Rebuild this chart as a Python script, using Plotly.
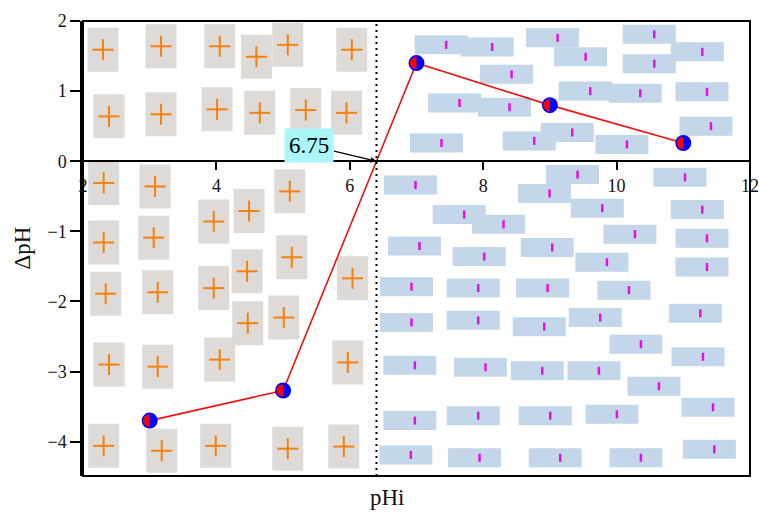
import numpy as np
import plotly.graph_objects as go

# ---- data ----
phi_initial = [3, 5, 7, 9, 11]
delta_ph = [-3.7, -3.27, 1.4, 0.8, 0.26]
pzc_cross_x = 6.4
pzc_label = "6.75"
x_ticks = [2, 4, 6, 8, 10, 12]
y_ticks = [-4, -3, -2, -1, 0, 1, 2]
x_title = "pHi"
y_title = "ΔpH"

# decorative "+" charge boxes (positive surface region)
plus_x = [2.30, 3.17, 4.05, 4.60, 5.07, 6.03, 2.39, 3.17, 4.01, 4.65, 5.34, 5.95,
          2.31, 3.08, 5.10, 3.96, 4.49, 2.31, 3.06, 5.13, 4.46, 6.04, 3.96, 2.34,
          3.12, 4.47, 5.01, 2.39, 3.12, 4.05, 5.97, 2.31, 3.18, 3.99, 5.07, 5.91]
plus_y = [1.59, 1.64, 1.64, 1.49, 1.66, 1.59, 0.64, 0.67, 0.74, 0.69, 0.73, 0.69,
          -0.31, -0.36, -0.43, -0.86, -0.71, -1.16, -1.09, -1.37, -1.57, -1.67, -1.81, -1.89,
          -1.87, -2.31, -2.23, -2.90, -2.93, -2.83, -2.87, -4.06, -4.13, -4.06, -4.10, -4.07]
# decorative "I" charge boxes (negative surface region)
minus_x = [7.37, 8.06, 9.04, 9.46, 10.49, 11.21, 10.49, 8.35, 9.53, 10.28, 11.28, 7.57,
           8.32, 11.34, 9.26, 8.69, 10.08, 7.30,
           6.91, 9.34, 8.92, 10.95, 9.71, 11.21, 7.64, 8.23, 10.20, 11.28, 6.97, 8.96,
           7.94, 9.78, 11.28, 6.85, 7.85, 8.89, 10.11, 11.18, 6.85, 7.85, 8.84, 9.68,
           10.29, 11.22, 6.90, 7.96, 8.81, 9.66, 10.56, 11.37, 6.90, 7.85, 8.93, 9.93,
           6.84, 7.87, 9.08, 10.29, 11.39]
minus_y = [1.66, 1.63, 1.76, 1.49, 1.81, 1.56, 1.39, 1.24, 1.00, 0.97, 0.99, 0.83,
           0.77, 0.50, 0.41, 0.29, 0.24, 0.26,
           -0.34, -0.19, -0.46, -0.23, -0.67, -0.69, -0.76, -0.90, -1.04, -1.10, -1.21, -1.23,
           -1.36, -1.44, -1.51, -1.79, -1.81, -1.81, -1.84, -2.17, -2.30, -2.27, -2.36, -2.23,
           -2.61, -2.79, -2.91, -2.94, -2.99, -2.99, -3.21, -3.51, -3.70, -3.63, -3.63, -3.61,
           -4.19, -4.23, -4.23, -4.23, -4.11]

X_RANGE = [2, 12]
Y_RANGE = [-4.49, 2]

GRAY = "#dedad8"
ORANGE = "#f7810d"
BLUEBOX = "#c4d6ea"
MAGENTA = "#e60fe6"
SERIF = "Liberation Serif"

shapes = []
for x, y in zip(plus_x, plus_y):
    common = dict(xref="x", yref="y", xsizemode="pixel", ysizemode="pixel",
                  xanchor=x, yanchor=y, layer="below")
    shapes.append(dict(type="rect", x0=-15.5, x1=15.5, y0=-22, y1=22,
                       fillcolor=GRAY, line=dict(width=0), **common))
    shapes.append(dict(type="line", x0=-10.5, x1=10.5, y0=0, y1=0,
                       line=dict(color=ORANGE, width=2), **common))
    shapes.append(dict(type="line", x0=0, x1=0, y0=-10.5, y1=10.5,
                       line=dict(color=ORANGE, width=2), **common))
for x, y in zip(minus_x, minus_y):
    common = dict(xref="x", yref="y", xsizemode="pixel", ysizemode="pixel",
                  xanchor=x, yanchor=y, layer="below")
    shapes.append(dict(type="rect", x0=-26.5, x1=26.5, y0=-9.5, y1=9.5,
                       fillcolor=BLUEBOX, line=dict(width=0), **common))
    shapes.append(dict(type="line", x0=5, x1=5, y0=-4, y1=4,
                       line=dict(color=MAGENTA, width=2.5), **common))

# dotted vertical line at crossing
shapes.append(dict(type="line", xref="x", yref="paper", x0=pzc_cross_x, x1=pzc_cross_x,
                   y0=0, y1=1, line=dict(color="black", width=2, dash="2px,4px"),
                   layer="above"))

# red left halves of the data markers
ang = np.linspace(np.pi / 2, 3 * np.pi / 2, 13)
rx, ry = 6.6, 6.0
half_path = "M " + " L ".join(f"{rx*np.cos(a):.2f},{ry*np.sin(a):.2f}" for a in ang) + " Z"
for x, y in zip(phi_initial, delta_ph):
    shapes.append(dict(type="path", xref="x", yref="y", xsizemode="pixel", ysizemode="pixel",
                       xanchor=x, yanchor=y, path=half_path, fillcolor="#ff0000",
                       line=dict(width=0), layer="above"))

# frame
shapes.append(dict(type="rect", xref="paper", yref="paper", x0=0, x1=1, y0=0, y1=1,
                   line=dict(color="black", width=2), layer="above"))

fig = go.Figure()
fig.add_trace(go.Scatter(x=phi_initial, y=delta_ph, mode="lines",
                         line=dict(color="#f01010", width=1.6), hoverinfo="skip",
                         showlegend=False))
fig.add_trace(go.Scatter(x=phi_initial, y=delta_ph, mode="markers",
                         marker=dict(color="#0000ff", size=16, symbol="circle",
                                     line=dict(width=0)),
                         showlegend=False))

x_axis_pos = (0 - Y_RANGE[0]) / (Y_RANGE[1] - Y_RANGE[0])

fig.update_layout(
    width=759, height=513,
    margin=dict(l=83, r=9, t=21, b=37, autoexpand=False),
    paper_bgcolor="white", plot_bgcolor="white",
    shapes=shapes,
    xaxis=dict(range=X_RANGE, tickvals=x_ticks, ticks="outside", ticklen=8, tickwidth=2,
               tickcolor="black", showline=True, linecolor="black", linewidth=2,
               showgrid=False, zeroline=False, anchor="free", position=x_axis_pos,
               automargin=False,
               tickfont=dict(family=SERIF, size=18, color="#111111")),
    yaxis=dict(range=Y_RANGE, tickvals=y_ticks, ticks="outside", ticklen=10, tickwidth=2,
               tickcolor="black", showline=True, linecolor="black", linewidth=2.5,
               showgrid=False, zeroline=False, automargin=False,
               tickfont=dict(family=SERIF, size=18, color="#111111")),
    annotations=[
        dict(x=pzc_cross_x, y=0, xref="x", yref="y", text=pzc_label, showarrow=True,
             ax=-67, ay=-16, arrowhead=2, arrowsize=1, arrowwidth=1.2, arrowcolor="black",
             bgcolor="#a9f6fb", borderpad=4, font=dict(family=SERIF, size=23, color="black")),
        dict(x=(387 - 83) / 667, y=(476 - 497) / 455, xref="paper", yref="paper",
             text=x_title, showarrow=False, font=dict(family=SERIF, size=23, color="#111111"),
             xanchor="center", yanchor="middle"),
        dict(x=(22 - 83) / 667, y=0.5, xref="paper", yref="paper", text=y_title,
             textangle=-90, showarrow=False, font=dict(family=SERIF, size=23, color="#111111"),
             xanchor="center", yanchor="middle"),
    ],
)

fig.write_html("out.html")
